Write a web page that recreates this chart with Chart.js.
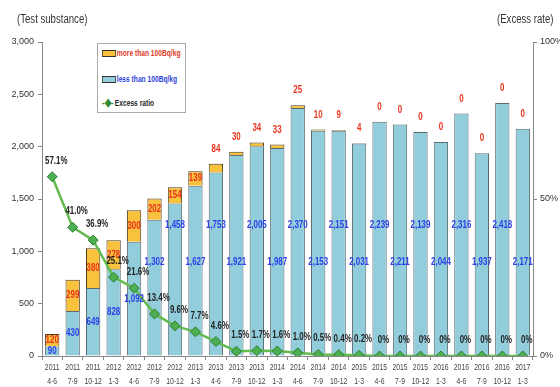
<!DOCTYPE html>
<html>
<head>
<meta charset="utf-8">
<script src="https://cdn.jsdelivr.net/npm/chart.js@4.4.1/dist/chart.umd.min.js"></script>
<style>
  body { margin: 0; background: #fff; }
  #wrap { position: relative; width: 560px; height: 387px; font-family: 'Liberation Sans', sans-serif; }
  .axis-title { position: absolute; top: 12px; font-size: 12px; color: #333; white-space: nowrap; transform: scaleX(0.8); transform-origin: left top; }
  #legend { position: absolute; left: 97px; top: 43px; width: 87px; height: 68px; border: 1px solid #aaa; background: #fff; font-size: 9px; font-weight: bold; }
  #legend .item { position: absolute; left: 4px; display: flex; align-items: center; white-space: nowrap; transform: scaleX(0.74); transform-origin: left center; }
  #legend .sw { width: 17px; height: 5px; margin-right: 1px; border: 1px solid #333; }
</style>
</head>
<body>
<div id="wrap">
  <canvas id="chart"></canvas>
  <div class="axis-title" style="left:17px">(Test substance)</div>
  <div class="axis-title" style="left:497px">(Excess rate)</div>
  <div id="legend">
    <div class="item" style="top:4px"><span class="sw" style="background:#f9c23c"></span><span style="color:#e03a2a">more than 100Bq/kg</span></div>
    <div class="item" style="top:30px"><span class="sw" style="background:#92cddc"></span><span style="color:#2b3fd8">less than 100Bq/kg</span></div>
    <div class="item" style="top:52px"><span style="color:#2e8b2e;font-size:11px;margin-right:2px">-&#9670;-</span><span style="color:#222">Excess ratio</span></div>
  </div>
</div>
<script>
// quarters, counts of test substance, excess ratio (%)
const years = ['2011', '2011', '2011', '2012', '2012', '2012', '2012', '2013', '2013', '2013', '2013', '2014',
  '2014', '2014', '2014', '2015', '2015', '2015', '2015', '2016', '2016', '2016', '2016', '2017'];
const months = ['4-6', '7-9', '10-12', '1-3', '4-6', '7-9', '10-12', '1-3', '4-6', '7-9', '10-12', '1-3',
  '4-6', '7-9', '10-12', '1-3', '4-6', '7-9', '10-12', '1-3', '4-6', '7-9', '10-12', '1-3'];
const lessThan = [90, 430, 649, 828, 1092, 1302, 1458, 1627, 1753, 1921, 2005, 1987,
  2370, 2153, 2151, 2031, 2239, 2211, 2139, 2044, 2316, 1937, 2418, 2171];
const moreThan = [120, 299, 380, 278, 300, 202, 154, 139, 84, 30, 34, 33,
  25, 10, 9, 4, 0, 0, 0, 0, 0, 0, 0, 0];
const excessRatio = [57.1, 41.0, 36.9, 25.1, 21.6, 13.4, 9.6, 7.7, 4.6, 1.5, 1.7, 1.6,
  1.0, 0.5, 0.4, 0.2, 0, 0, 0, 0, 0, 0, 0, 0];
const leftTicks = [0, 500, 1000, 1500, 2000, 2500, 3000];
const rightTicks = [0, 50, 100];

const labels = years.map((y, i) => [y, months[i]]);
const FONT_FAMILY = "'Liberation Sans', sans-serif";

// text squeezed sideways, the source used a narrow font
function narrowText(ctx, text, x, y, sx) {
  ctx.save();
  ctx.translate(x, y);
  ctx.scale(sx, 1);
  ctx.fillText(text, 0, 0);
  ctx.restore();
}

// draws the value labels and the two-line quarter labels
const valueLabels = {
  id: 'valueLabels',
  afterDatasetsDraw(chart) {
    const ctx = chart.ctx;
    const yScale = chart.scales.y;
    const lessMeta = chart.getDatasetMeta(0);
    const moreMeta = chart.getDatasetMeta(1);
    const lineMeta = chart.getDatasetMeta(2);
    ctx.save();
    ctx.font = 'bold 11px ' + FONT_FAMILY;
    ctx.textAlign = 'center';
    ctx.textBaseline = 'middle';
    lessThan.forEach((v, i) => {
      const bar = lessMeta.data[i];
      const target = i % 2 === 0 ? 1250 : 900;
      let y = (bar.y + bar.base) / 2;
      if (v > target + 150) y = yScale.getPixelForValue(target);
      ctx.fillStyle = '#2b3fe8';
      narrowText(ctx, v.toLocaleString('en-US'), bar.x, y, 0.72);
    });
    moreThan.forEach((v, i) => {
      const seg = moreMeta.data[i];
      let y = (seg.y + seg.base) / 2;
      if (v < 100) y = seg.y - 15;
      ctx.fillStyle = '#e8321e';
      narrowText(ctx, String(v), seg.x, y, 0.72);
    });
    excessRatio.forEach((v, i) => {
      const pt = lineMeta.data[i];
      ctx.fillStyle = '#222';
      narrowText(ctx, v === 0 ? '0%' : v.toFixed(1) + '%', pt.x + 4, pt.y - 16, 0.72);
    });
    // quarter labels under the axis
    ctx.font = '9.5px ' + FONT_FAMILY;
    ctx.fillStyle = '#444';
    labels.forEach((lab, i) => {
      const x = lessMeta.data[i].x;
      narrowText(ctx, lab[0], x, 367, 0.72);
      narrowText(ctx, lab[1], x, 381, 0.72);
    });
    ctx.restore();
  }
};

const axisFont = { family: FONT_FAMILY, size: 9 };

new Chart(document.getElementById('chart'), {
  data: {
    labels: labels,
    datasets: [
      {
        type: 'bar',
        label: 'less than 100Bq/kg',
        data: lessThan,
        backgroundColor: '#92cddc',
        borderColor: '#5a6a70',
        borderWidth: 1,
        stack: 's',
        yAxisID: 'y',
        barPercentage: 0.7,
        categoryPercentage: 1,
        order: 2
      },
      {
        type: 'bar',
        label: 'more than 100Bq/kg',
        data: moreThan,
        backgroundColor: '#f9c23c',
        borderColor: '#4a3a20',
        borderWidth: 1,
        stack: 's',
        yAxisID: 'y',
        barPercentage: 0.7,
        categoryPercentage: 1,
        order: 2
      },
      {
        type: 'line',
        label: 'Excess ratio',
        data: excessRatio,
        yAxisID: 'y1',
        borderColor: '#62bb4e',
        borderWidth: 2.5,
        pointStyle: 'rectRot',
        pointRadius: 5,
        pointBackgroundColor: '#4caf50',
        pointBorderColor: '#2e7d32',
        pointBorderWidth: 1,
        tension: 0,
        order: 0
      }
    ]
  },
  options: {
    responsive: true,
    maintainAspectRatio: false,
    animation: false,
    layout: { padding: { top: 42, left: 0, right: 0, bottom: 0 } },
    plugins: {
      legend: { display: false },
      tooltip: { enabled: false }
    },
    scales: {
      x: {
        stacked: true,
        grid: { drawOnChartArea: false, color: '#888', tickLength: 4 },
        border: { color: '#888' },
        ticks: { display: false },
        afterFit: s => { s.height = 31; }
      },
      y: {
        stacked: true,
        position: 'left',
        min: 0,
        max: 3000,
        grid: { drawOnChartArea: false, color: '#888', tickLength: 4 },
        border: { color: '#888' },
        afterBuildTicks: s => { s.ticks = leftTicks.map(v => ({ value: v })); },
        ticks: { font: axisFont, color: '#333', padding: 4, callback: v => v.toLocaleString('en-US') },
        afterFit: s => { s.width = 42; }
      },
      y1: {
        position: 'right',
        min: 0,
        max: 100,
        grid: { drawOnChartArea: false, color: '#888', tickLength: 4 },
        border: { color: '#888' },
        afterBuildTicks: s => { s.ticks = rightTicks.map(v => ({ value: v })); },
        ticks: { font: axisFont, color: '#333', padding: 3, callback: v => v + '%' },
        afterFit: s => { s.width = 27; }
      }
    }
  },
  plugins: [valueLabels]
});
</script>
</body>
</html>
